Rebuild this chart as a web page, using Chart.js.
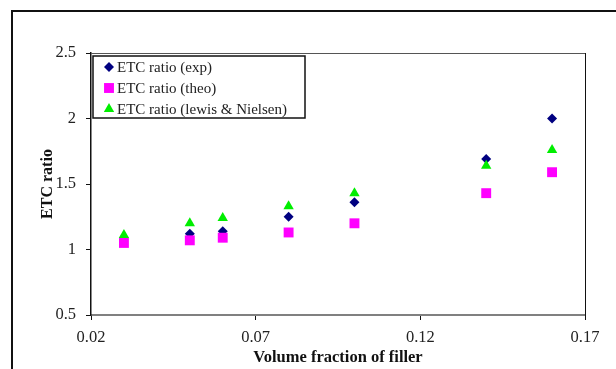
<!DOCTYPE html>
<html>
<head>
<meta charset="utf-8">
<script src="https://cdn.jsdelivr.net/npm/chart.js@4.4.1/dist/chart.umd.min.js"></script>
<style>
  html, body { margin: 0; padding: 0; background: #fff; }
  canvas { display: block; }
</style>
</head>
<body>
<canvas id="etcChart" width="616" height="369"></canvas>
<script>
// values
const fractions = [0.03, 0.05, 0.06, 0.08, 0.10, 0.14, 0.16];
const expRatio = [null, 1.12, 1.14, 1.25, 1.36, 1.69, 2.00];
const theoRatio = [1.05, 1.07, 1.09, 1.13, 1.20, 1.43, 1.59];
const lewisRatio = [1.11, 1.20, 1.24, 1.33, 1.43, 1.64, 1.76];

const xTicks = [0.02, 0.07, 0.12, 0.17];
const yTicks = [0.5, 1, 1.5, 2, 2.5];

const toPoints = (xs, ys) => xs.map((x, i) => ({ x: x, y: ys[i] })).filter(p => p.y !== null);

Chart.defaults.font.family = '"Liberation Serif", "Times New Roman", serif';
Chart.defaults.color = '#222';

// outer frame + plot area top/right edges
const framePlugin = {
    id: 'frame',
    beforeDraw(chart) {
        const ctx = chart.ctx;
        ctx.save();
        ctx.strokeStyle = '#111';
        ctx.lineWidth = 2;
        ctx.strokeRect(12, 11, 700, 700);
        ctx.restore();
    },
    beforeDatasetsDraw(chart) {
        const { ctx, chartArea: a } = chart;
        ctx.save();
        ctx.lineWidth = 1;
        ctx.strokeStyle = '#555';
        ctx.beginPath();
        ctx.moveTo(a.left, a.top + 0.5);
        ctx.lineTo(a.right, a.top + 0.5);
        ctx.stroke();
        ctx.strokeStyle = '#111';
        ctx.beginPath();
        ctx.moveTo(a.right + 0.5, a.top);
        ctx.lineTo(a.right + 0.5, a.bottom + 5);
        ctx.stroke();
        ctx.restore();
    }
};

// boxed legend inside the plot area, Excel style
const boxLegend = {
    id: 'boxLegend',
    afterDatasetsDraw(chart) {
        const { ctx, chartArea: a } = chart;
        const left = a.left + 2, top = a.top + 3, w = 212, h = 62;
        ctx.save();
        ctx.fillStyle = '#fff';
        ctx.fillRect(left, top, w, h);
        ctx.strokeStyle = '#111';
        ctx.lineWidth = 1.5;
        ctx.strokeRect(left, top, w, h);
        ctx.font = '15px "Liberation Serif", "Times New Roman", serif';
        ctx.textBaseline = 'middle';
        chart.data.datasets.forEach((ds, i) => {
            const y = top + 11 + i * 21;
            const mx = left + 16;
            ctx.fillStyle = ds.backgroundColor;
            ctx.strokeStyle = ds.backgroundColor;
            if (Chart.helpers && Chart.helpers.drawPoint) {
                Chart.helpers.drawPoint(ctx, { pointStyle: ds.pointStyle, radius: ds.pointRadius, borderWidth: 0, rotation: 0 }, mx, y);
            } else {
                ctx.fillRect(mx - 4, y - 4, 8, 8);
            }
            ctx.fillStyle = '#222';
            ctx.fillText(ds.label, left + 24, y + 1);
        });
        ctx.restore();
    }
};

const ctx = document.getElementById('etcChart');
window.etcChart = new Chart(ctx, {
    type: 'scatter',
    data: {
        datasets: [{
            label: 'ETC ratio (exp)',
            data: toPoints(fractions, expRatio),
            backgroundColor: '#000080',
            borderColor: '#000080',
            pointStyle: 'rectRot',
            pointRadius: 5,
            borderWidth: 0,
            order: 3
        }, {
            label: 'ETC ratio (theo)',
            data: toPoints(fractions, theoRatio),
            backgroundColor: '#ff00ff',
            borderColor: '#ff00ff',
            pointStyle: 'rect',
            pointRadius: 7,
            borderWidth: 0,
            order: 2
        }, {
            label: 'ETC ratio (lewis & Nielsen)',
            data: toPoints(fractions, lewisRatio),
            backgroundColor: '#00ee00',
            borderColor: '#00ee00',
            pointStyle: 'triangle',
            pointRadius: 6,
            borderWidth: 0,
            order: 1
        }]
    },
    options: {
        responsive: false,
        animation: false,
        devicePixelRatio: 1,
        layout: {
            padding: { left: 0, top: 53, right: 31, bottom: 0 }
        },
        scales: {
            x: {
                type: 'linear',
                min: 0.02,
                max: 0.17,
                afterBuildTicks: (scale) => { scale.ticks = xTicks.map(v => ({ value: v })); },
                afterFit: (scale) => { scale.height = 54; },
                ticks: {
                    font: { size: 16.5 },
                    padding: 8,
                    callback: (v) => Number(v).toFixed(2)
                },
                grid: { drawOnChartArea: false, drawTicks: true, tickLength: 5, color: '#111' },
                border: { display: true, color: '#808080', width: 2 },
                title: {
                    display: true,
                    text: 'Volume fraction of filler',
                    font: { size: 16.5, weight: 'bold' },
                    color: '#111',
                    padding: { top: 0, bottom: 1 }
                }
            },
            y: {
                min: 0.5,
                max: 2.5,
                afterBuildTicks: (scale) => { scale.ticks = yTicks.map(v => ({ value: v })); },
                afterFit: (scale) => { scale.width = 91; },
                ticks: {
                    font: { size: 16.5 },
                    padding: 10,
                    callback: (v) => String(v)
                },
                grid: { drawOnChartArea: false, drawTicks: true, tickLength: 5, color: '#111' },
                border: { display: true, color: '#111', width: 1.5 },
                title: {
                    display: true,
                    text: 'ETC ratio',
                    font: { size: 16, weight: 'bold' },
                    color: '#111',
                    padding: { top: 38, bottom: 0 }
                }
            }
        },
        plugins: {
            legend: { display: false },
            tooltip: { enabled: false }
        }
    },
    plugins: [framePlugin, boxLegend]
});
</script>
</body>
</html>
